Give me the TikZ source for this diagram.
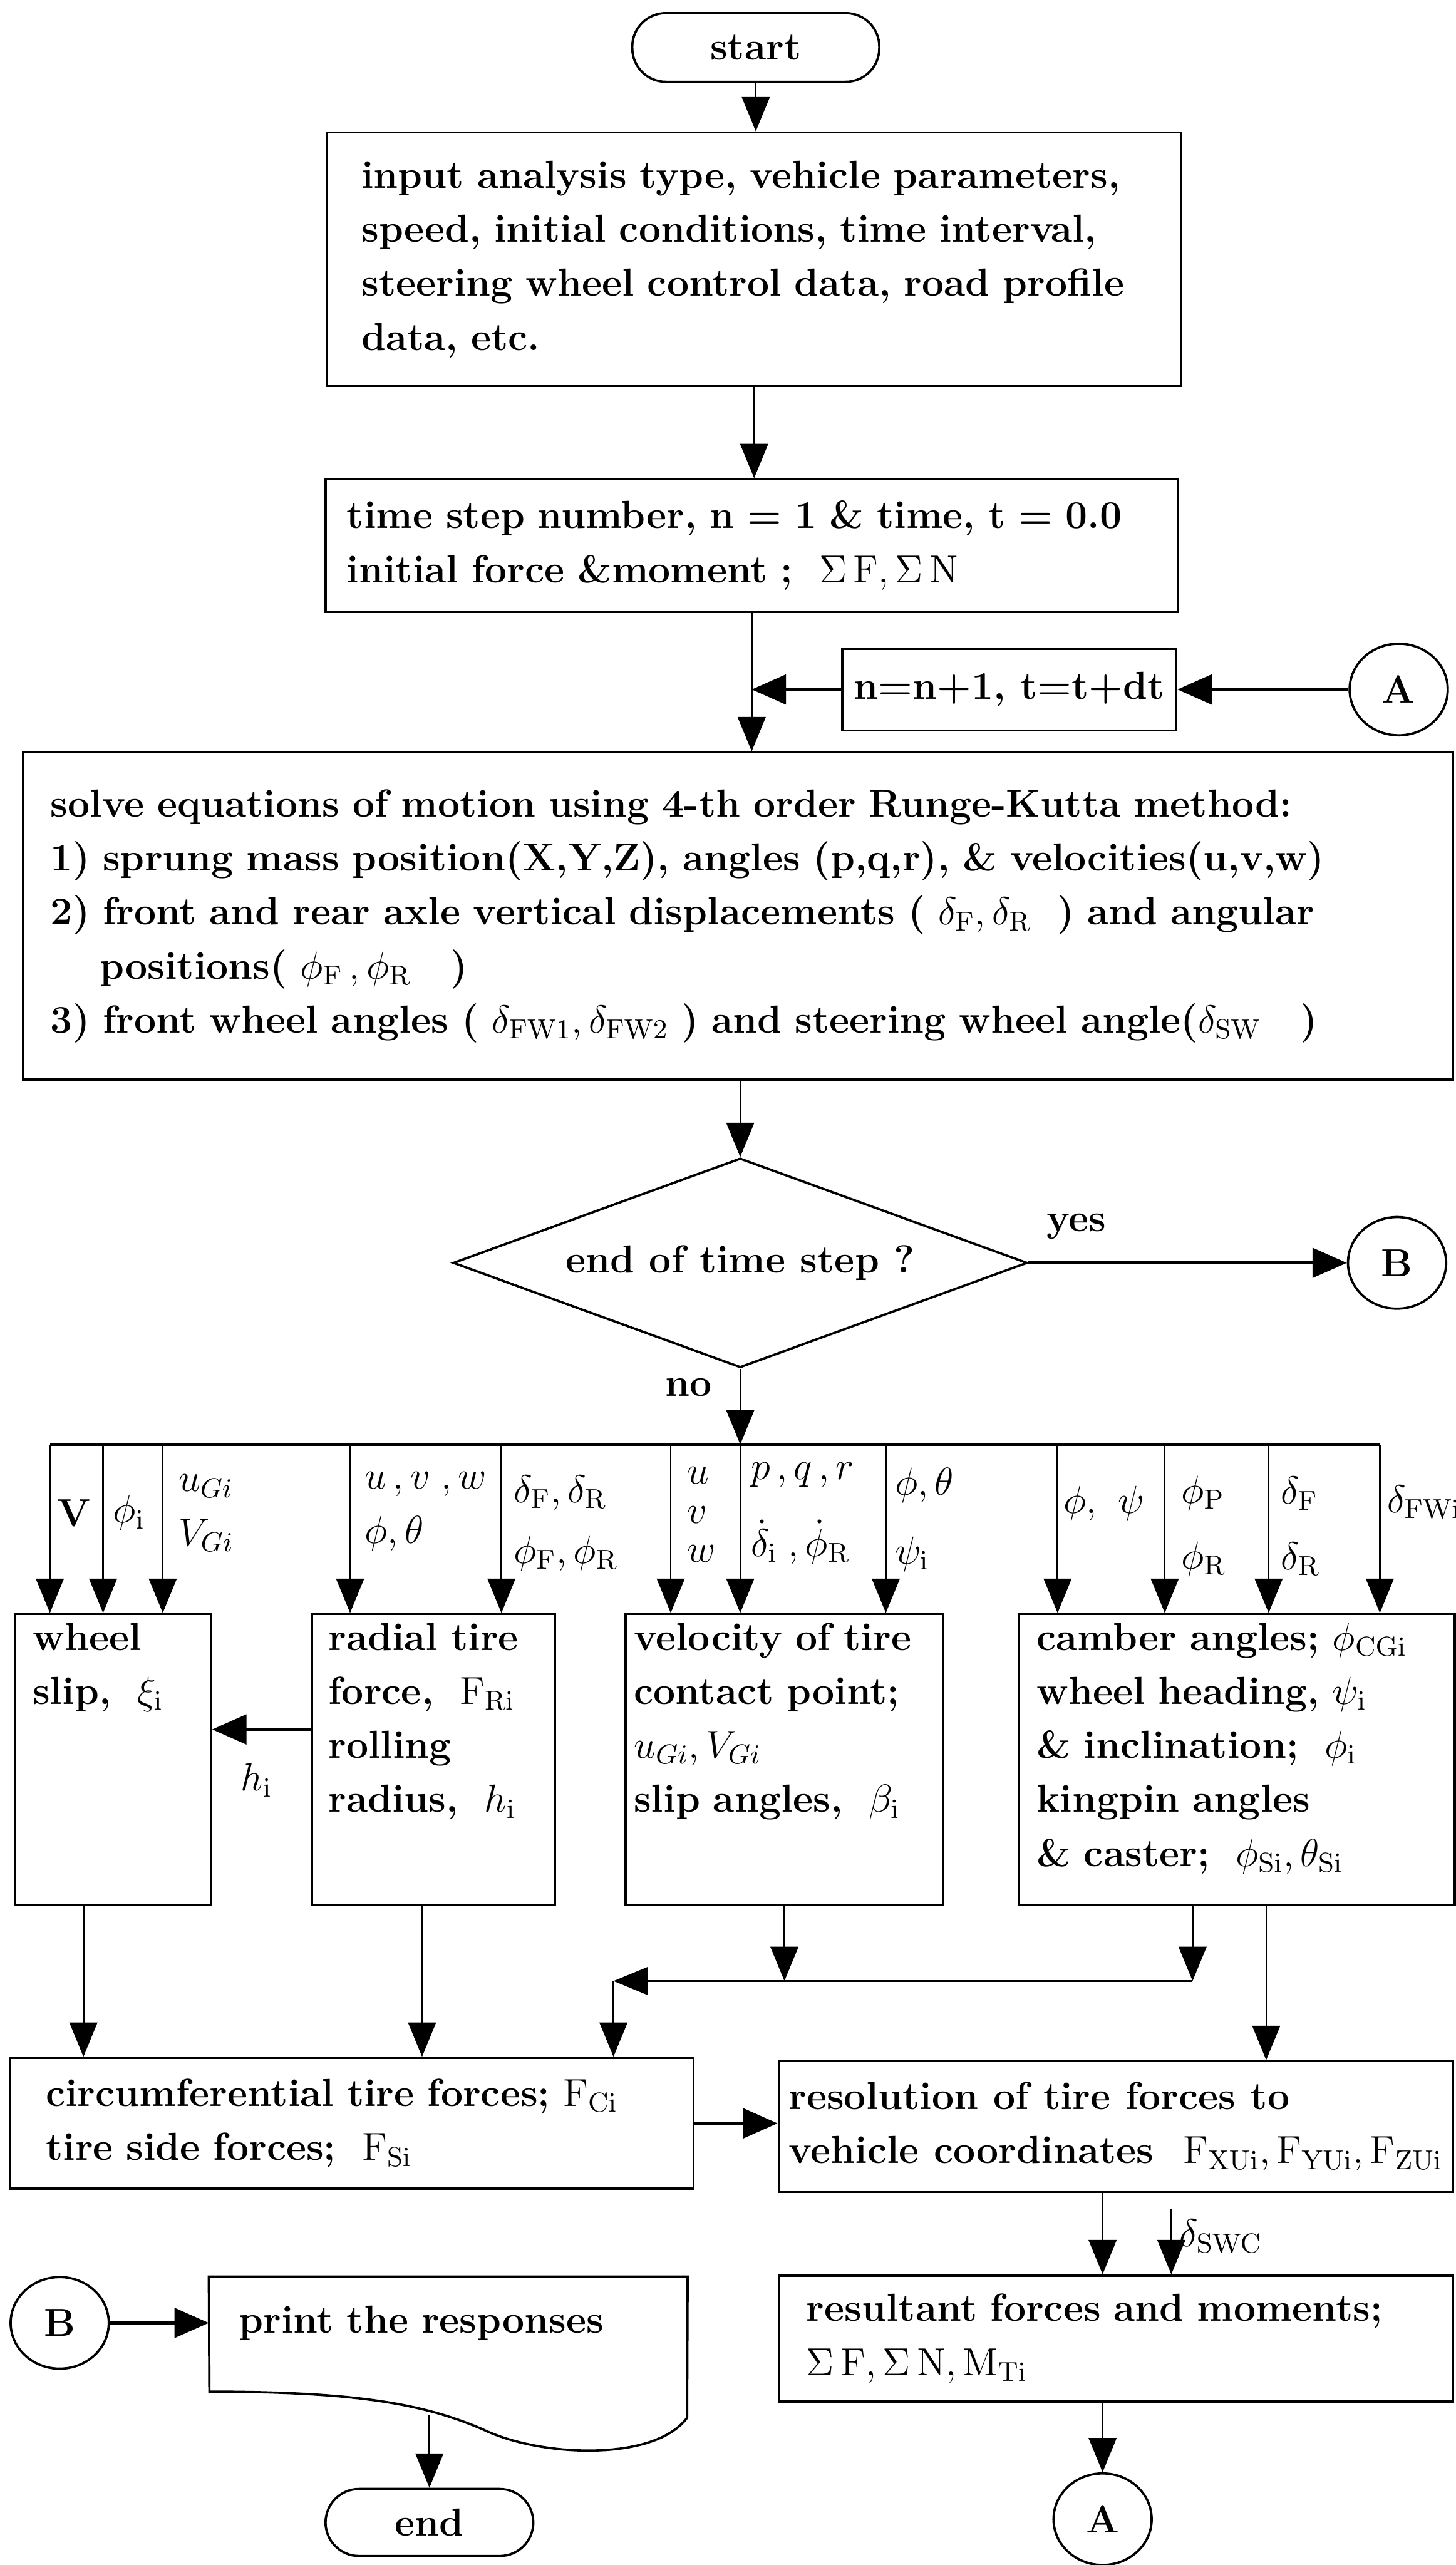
\RequirePackage{fix-cm}
\documentclass[tikz,border=0pt]{standalone}
\usepackage{amsmath,amssymb}
\usepackage{tikz}
\usetikzlibrary{arrows.meta, positioning, shapes.geometric}

\begin{document}
\begin{tikzpicture}[
    every node/.style={font=\fontsize{13.6}{18.8}\selectfont\bfseries},
    box/.style={draw, thick, align=left},
    rowbox/.style={draw, thick, anchor=north, align=left, text height=0.32cm, text depth=3.00cm, inner ysep=0.12cm},
    term/.style={draw, thick, rounded corners=0.41cm, minimum width=3.02cm, minimum height=0.84cm},
    conn/.style={draw, thick, ellipse, minimum width=1.2cm, minimum height=1.12cm, inner sep=0pt},
    dec/.style={draw, thick, diamond, aspect=2.74, inner sep=0pt},
    lbl/.style={anchor=west, align=left, inner sep=1pt},
    arr/.style={-{Triangle[length=0.42cm, width=0.34cm]}, semithick},
    harr/.style={-{Triangle[length=0.42cm, width=0.36cm]}, very thick},
]
\useasboundingbox (0,0) rectangle (17.8,-31.36);

% main column
\node[term] (start) at (9.24,-0.58) {start};
\node[box, text width=9.60cm, inner xsep=0.42cm, minimum height=3.10cm] (input) at (9.22,-3.17) {input analysis type, vehicle parameters,\\speed, initial conditions, time interval,\\steering wheel control data, road profile\\data, etc.};
\node[box, text width=9.90cm, inner xsep=0.26cm, minimum height=1.62cm] (time) at (9.19,-6.67) {time step number, n = 1 \& time, t = 0.0\\initial force \&moment ;\ \ $\Sigma\,\mathrm{F},\Sigma\,\mathrm{N}$};
\node[box, align=center, minimum width=4.08cm, minimum height=1.0cm] (nbox) at (12.34,-8.43) {n=n+1, t=t+dt};
\node[conn] (Atop) at (17.10,-8.43) {A};
\node[box, text width=16.80cm, inner xsep=0.34cm, minimum height=4.00cm] (solve) at (9.02,-11.20) {solve equations of motion using 4-th order Runge-Kutta method:\\1) sprung mass position(X,Y,Z), angles (p,q,r), \& velocities(u,v,w)\\2) front and rear axle vertical displacements ( $\delta_{\mathrm{F}},\delta_{\mathrm{R}}$\ \ ) and angular\\\hspace*{0.6cm}positions( $\phi_{\mathrm{F}}\,,\phi_{\mathrm{R}}$\quad )\\3) front wheel angles ( $\delta_{\mathrm{FW1}},\delta_{\mathrm{FW2}}$ ) and steering wheel angle($\delta_{\mathrm{SW}}$\quad )};
\node[dec, minimum width=7.02cm, minimum height=2.56cm] (dia) at (9.05,-15.44) {end of time step ?};
\node[conn] (Bmid) at (17.08,-15.44) {B};

\draw[arr] (start.south) -- (start.south |- input.north);
\draw[arr] (input.south) -- (input.south |- time.north);
\draw[arr] (time.south) -- (time.south |- solve.north);
\draw[harr] (Atop.west) -- (nbox.east);
\draw[harr] (nbox.west) -- (nbox.west -| time.south);
\draw[arr] (solve.south -| dia.north) -- (dia.north);
\draw[harr] (dia.east) -- (Bmid.west) node[pos=0.15, above=0.15cm] {yes};

% distribution line
\coordinate (b1) at (0.61,-17.66);
\coordinate (b2) at (1.26,-17.66);
\coordinate (b3) at (1.99,-17.66);
\coordinate (b4) at (4.28,-17.66);
\coordinate (b5) at (6.13,-17.66);
\coordinate (b6) at (8.20,-17.66);
\coordinate (b7) at (9.05,-17.66);
\coordinate (b8) at (10.83,-17.66);
\coordinate (b9) at (12.93,-17.66);
\coordinate (b10) at (14.24,-17.66);
\coordinate (b11) at (15.51,-17.66);
\coordinate (b12) at (16.87,-17.66);

\draw[arr] (dia.south) -- (b7) node[pos=0.25, left=0.22cm] {no};
\draw[very thick] (b1) -- (b12);

% four computation boxes
\node[rowbox, text width=1.96cm, inner xsep=0.22cm] (wheel) at (1.38,-19.72) {wheel\\slip,\ \ $\xi_{\mathrm{i}}$};
\node[rowbox, text width=2.57cm, inner xsep=0.20cm] (radial) at (5.30,-19.72) {radial tire\\force,\ \ $\mathrm{F}_{\mathrm{Ri}}$\\rolling\\radius,\ \ $h_{\mathrm{i}}$};
\node[rowbox, text width=3.68cm, inner xsep=0.10cm] (veloc) at (9.59,-19.72) {velocity of tire\\contact point;\\$u_{Gi},V_{Gi}$\\slip angles,\ \ $\beta_{\mathrm{i}}$};
\node[rowbox, text width=4.89cm, inner xsep=0.22cm] (camber) at (15.12,-19.72) {camber angles;\ $\phi_{\mathrm{CGi}}$\\wheel heading,\ $\psi_{\mathrm{i}}$\\\&~inclination;\ \ $\phi_{\mathrm{i}}$\\kingpin angles\\\&~caster;\ \ $\phi_{\mathrm{Si}},\theta_{\mathrm{Si}}$};

\draw[arr] (b1) -- (b1 |- wheel.north);
\draw[arr] (b2) -- (b2 |- wheel.north);
\draw[arr] (b3) -- (b3 |- wheel.north);
\draw[arr] (b4) -- (b4 |- radial.north);
\draw[arr] (b5) -- (b5 |- radial.north);
\draw[arr] (b6) -- (b6 |- veloc.north);
\draw[arr] (b7) -- (b7 |- veloc.north);
\draw[arr] (b8) -- (b8 |- veloc.north);
\draw[arr] (b9) -- (b9 |- camber.north);
\draw[arr] (b10) -- (b10 |- camber.north);
\draw[arr] (b11) -- (b11 |- camber.north);
\draw[arr] (b12) -- (b12 |- camber.north);

% inputs written on the lines
\node[lbl] (lV) at (0.66,-18.50) {V};
\node[lbl] (lphi) at (1.34,-18.50) {$\phi_{\mathrm{i}}$};
\node[lbl] (luG) at (2.14,-18.50) {$u_{Gi}$\\$V_{Gi}$};
\node[lbl] (luvw) at (4.42,-18.48) {$u\,,v\;,w$\\$\phi,\theta$};
\node[lbl] (ldF) at (6.24,-18.62) {$\delta_{\mathrm{F}},\delta_{\mathrm{R}}$\\[0.08cm]$\phi_{\mathrm{F}},\phi_{\mathrm{R}}$};
\node[lbl, font=\fontsize{13.6}{13.6}\selectfont\bfseries] (lstack) at (8.36,-18.52) {$u$\\$v$\\$w$};
\node[lbl] (lpqr) at (9.14,-18.50) {$p\,,q\,,r$\\[0.28cm]$\dot{\delta}_{\mathrm{i}}\;,\dot{\phi}_{\mathrm{R}}$};
\node[lbl] (lth) at (10.90,-18.58) {$\phi,\theta$\\[0.18cm]$\psi_{\mathrm{i}}$};
\node[lbl] (lps) at (12.96,-18.38) {$\phi,\ \psi$};
\node[lbl] (lphP) at (14.40,-18.66) {$\phi_{\mathrm{P}}$\\[0.14cm]$\phi_{\mathrm{R}}$};
\node[lbl] (ldR) at (15.62,-18.66) {$\delta_{\mathrm{F}}$\\[0.14cm]$\delta_{\mathrm{R}}$};
\node[lbl] (ldFW) at (16.92,-18.36) {$\delta_{\mathrm{FWi}}$};

\draw[harr] ([yshift=0.37cm]radial.west) -- ([yshift=0.37cm]radial.west -| wheel.east) node[pos=0.55, below=0.28cm] {$h_{\mathrm{i}}$};

% force boxes
\node[box, text width=7.48cm, inner xsep=0.44cm, minimum height=1.60cm] (circ) at (4.30,-25.96) {circumferential tire forces; $\mathrm{F}_{\mathrm{Ci}}$\\tire side forces;\ \ $\mathrm{F}_{\mathrm{Si}}$};
\node[box, minimum width=8.24cm, minimum height=1.60cm] (res) at (13.64,-26.00) {resolution of tire forces to\\vehicle coordinates\ \ $\mathrm{F}_{\mathrm{XUi}},\mathrm{F}_{\mathrm{YUi}},\mathrm{F}_{\mathrm{ZUi}}$};
\node[box, text width=7.56cm, inner xsep=0.34cm, minimum height=1.54cm] (result) at (13.64,-28.59) {resultant forces and moments;\\$\Sigma\,\mathrm{F},\Sigma\,\mathrm{N},\mathrm{M}_{\mathrm{Ti}}$};
\node[conn] (Abot) at (13.48,-30.80) {A};

\coordinate (mL) at (7.50,-24.22);
\coordinate (mR) at (14.58,-24.22);
\coordinate (swc) at (14.32,-27.00);

\draw[arr] ([xshift=-0.36cm]wheel.south) -- ([xshift=-0.36cm]wheel.south |- circ.north);
\draw[arr] ([xshift=-0.14cm]radial.south) -- ([xshift=-0.14cm]radial.south |- circ.north);
\draw[arr] (veloc.south) -- (veloc.south |- mR);
\draw[arr] ([xshift=-0.54cm]camber.south) -- (mR);
\draw[arr] (mR) -- (mL);
\draw[arr] (mL) -- (mL |- circ.north);
\draw[arr] ([xshift=0.36cm]camber.south) -- ([xshift=0.36cm]camber.south |- res.north);
\draw[harr] (circ.east) -- (circ.east -| res.west);
\draw[arr] (res.south -| Abot.north) -- (Abot.north |- result.north);
\draw[arr] (swc) -- (swc |- result.north);
\node[lbl] (lswc) at (14.38,-27.34) {$\delta_{\mathrm{SWC}}$};
\draw[arr] (result.south -| Abot.north) -- (Abot.north);

% output branch
\node[conn] (Bbot) at (0.73,-28.40) {B};
\node[align=left, text width=5.12cm, inner xsep=0.36cm, minimum height=1.12cm] (print) at (5.48,-28.40) {print the responses};
\draw[thick] (print.north west) -- (print.north east) -- (8.40,-29.56) .. controls (8.00,-30.10) and (6.60,-30.04) .. (5.90,-29.70) .. controls (5.20,-29.40) and (4.40,-29.24) .. (2.56,-29.24) -- cycle;
\node[term, minimum width=2.54cm, minimum height=0.82cm] (stop) at (5.25,-30.84) {end};
\coordinate (pw) at (5.25,-29.52);

\draw[harr] (Bbot.east) -- (Bbot.east -| print.west);
\draw[arr] (pw) -- (pw |- stop.north);

\end{tikzpicture}
\end{document}
